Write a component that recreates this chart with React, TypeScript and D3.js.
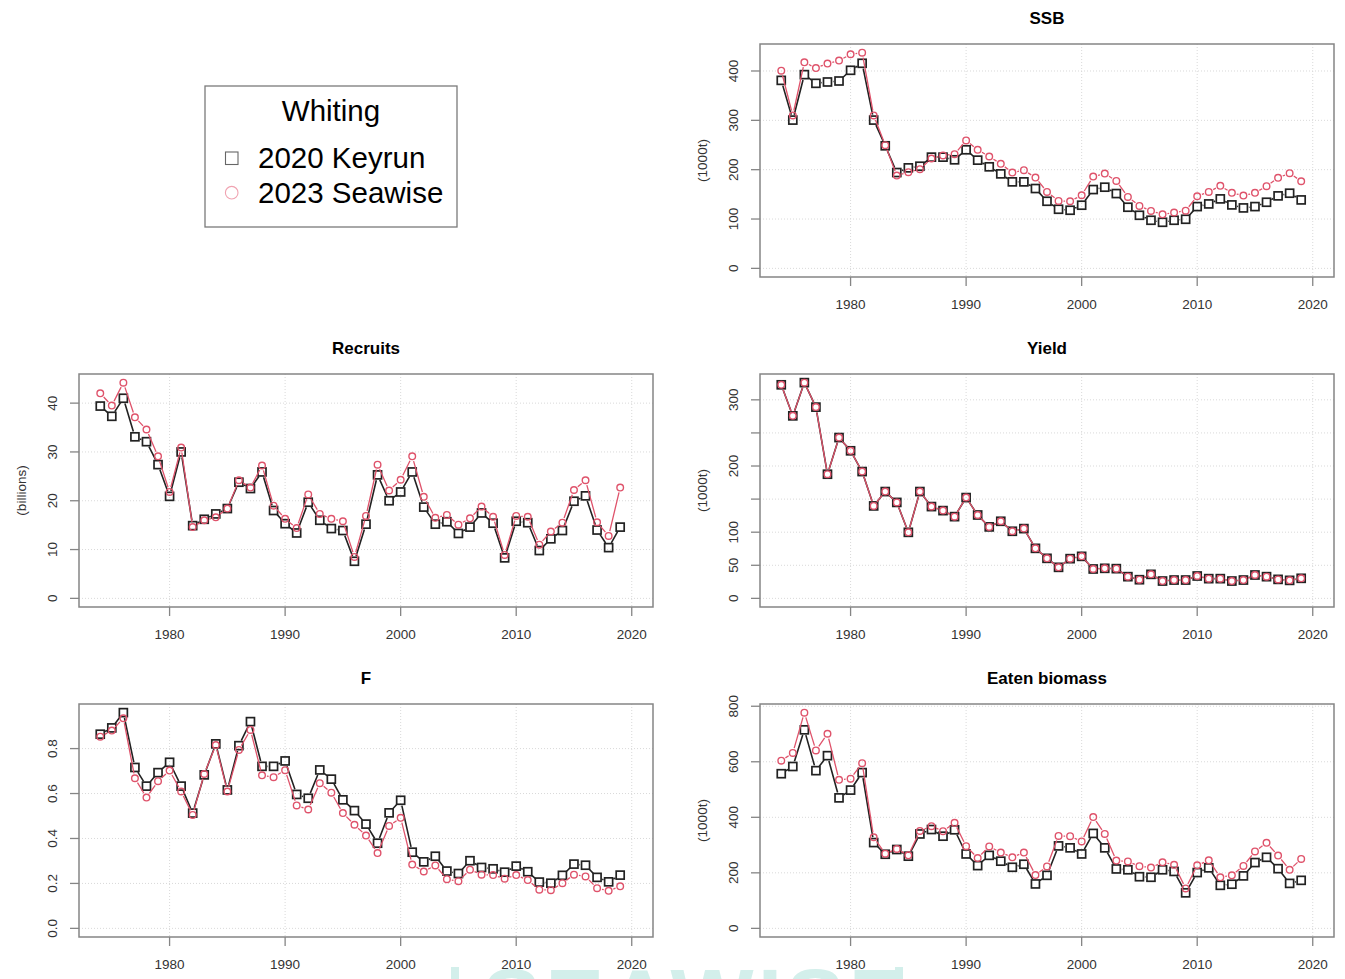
import React from "react";
import * as d3 from "d3";

const years = [1974,1975,1976,1977,1978,1979,1980,1981,1982,1983,1984,1985,1986,1987,1988,1989,1990,1991,1992,1993,1994,1995,1996,1997,1998,1999,2000,2001,2002,2003,2004,2005,2006,2007,2008,2009,2010,2011,2012,2013,2014,2015,2016,2017,2018,2019];

const ssbKeyrun = [381,300.5,392.6,375,377.7,379.7,401.4,415.6,300.5,248.4,194.2,203.7,207,225.4,225.4,220,240.3,219.3,205.8,191.5,175.3,175.3,161.8,136,119.8,117.8,128,159.7,164.5,151.6,123.9,107.6,97.5,93.4,97.5,99.5,125.2,130.6,140.8,128.6,122.5,125.2,134,146.9,152.3,138.7];
const ssbSeawise = [400.7,310,417.6,406,415,421,433.8,437.2,310,249.7,188,195,201,222.7,228.8,231.5,259.2,240.3,226.7,211.8,194.2,199,184,155,136.7,136,148.2,186,192.2,177.3,144.8,126.6,116.4,109.6,113,117,146.2,155,167.2,153,147.5,153,166.5,183.4,192.9,176.6];

const recKeyrun = [39.4,37.3,41,33.1,32.1,27.4,20.9,30,14.9,16.2,17.3,18.4,23.8,22.5,25.9,18,15.3,13.4,19.7,16,14.3,13.9,7.6,15.2,25.3,20,21.8,25.9,18.7,15.2,15.7,13.3,14.6,17.5,15.4,8.3,15.8,15.5,9.8,12.2,13.9,19.9,21,14,10.4,14.6];
const recSeawise = [42,39.5,44.2,37.1,34.6,29.1,21.8,30.9,14.6,16,16.6,18.4,24.2,22.7,27.2,19,16.3,14.4,21.3,17.3,16.3,15.8,8.5,16.9,27.4,22.1,24.3,29.1,20.8,16.5,17.1,15.1,16.4,18.8,16.7,8.9,16.9,16.7,11,13.7,15.5,22.2,24.2,15.6,12.8,22.7];

const yieldKeyrun = [322.7,275.8,326,289,187.6,243,223,191.6,139.7,161.4,145,99.8,161.4,138.7,132.6,123.5,152.3,126,108,116.5,101.4,105.4,75.6,60.5,46.9,60,63.5,44.4,45.4,44.9,32.8,28.2,36.3,26.2,27.7,27.7,33.8,29.8,29.8,26.2,27.7,35.3,32.8,28.7,27.2,30.3];
const yieldSeawise = [322.7,275.8,326,289,187.6,243,223,191.6,139.7,161.4,145,99.8,161.4,138.7,132.6,123.5,152.3,126,108,116.5,101.4,105.4,75.6,60.5,46.9,60,63.5,44.4,45.4,44.9,32.8,28.2,36.3,26.2,27.7,27.7,33.8,29.8,29.8,26.2,27.7,35.3,32.8,28.7,27.2,30.3];

const fKeyrun = [0.864,0.892,0.96,0.716,0.633,0.693,0.739,0.633,0.513,0.683,0.821,0.616,0.813,0.92,0.721,0.721,0.745,0.596,0.579,0.705,0.664,0.572,0.524,0.464,0.379,0.514,0.57,0.339,0.296,0.321,0.255,0.244,0.301,0.271,0.265,0.25,0.277,0.252,0.206,0.201,0.236,0.286,0.281,0.227,0.207,0.237];
const fSeawise = [0.853,0.88,0.935,0.668,0.582,0.655,0.702,0.609,0.505,0.687,0.816,0.609,0.794,0.883,0.681,0.673,0.704,0.547,0.529,0.646,0.604,0.513,0.461,0.413,0.335,0.456,0.492,0.284,0.253,0.28,0.219,0.21,0.261,0.239,0.237,0.221,0.237,0.215,0.172,0.17,0.201,0.239,0.231,0.179,0.167,0.187];

const eatenKeyrun = [557,583,715,568,622,470,498,561,309,267,284,260,340,356,332,355,268,226,263,242,220,231,160,191,297,290,268,342,290,214,211,186,184,211,205,128,201,218,155,159,189,237,256,215,162,173];
const eatenSeawise = [604,632,777,641,701,535,539,595,328,269,286,263,351,368,350,380,296,253,295,273,256,273,192,223,333,332,313,401,340,244,241,224,219,238,229,144,227,245,184,191,225,277,308,262,211,250];

const xTicks = [1980, 1990, 2000, 2010, 2020];
const ssbTicks = [0, 100, 200, 300, 400];
const recTicks = [0, 10, 20, 30, 40];
const yieldTicks = [0, 50, 100, 150, 200, 250, 300];
const yieldTickLabels = ["0", "50", "100", "", "200", "", "300"];
const fTicks = [0, 0.2, 0.4, 0.6, 0.8];
const fTickLabels = ["0.0", "0.2", "0.4", "0.6", "0.8"];
const eatenTicks = [0, 200, 400, 600, 800];

const seriesNames = ["2020 Keyrun", "2023 Seawise"];
const legendTitle = "Whiting";
const watermark = "SEAWISE";

const PINK = "#DF536B";
const DARK = "#222";
const FONT = "'Liberation Sans', Arial, Helvetica, sans-serif";

const BOX_W = 574;
const BOX_H = 233;

function gapSegments(pts: [number, number][], gap: number): string {
  let d = "";
  for (let i = 0; i < pts.length - 1; i++) {
    const [x1, y1] = pts[i];
    const [x2, y2] = pts[i + 1];
    const dx = x2 - x1, dy = y2 - y1;
    const len = Math.sqrt(dx * dx + dy * dy);
    if (len <= gap * 2 + 0.5) continue;
    const ux = dx / len, uy = dy / len;
    d += `M${x1 + ux * gap},${y1 + uy * gap}L${x2 - ux * gap},${y2 - uy * gap}`;
  }
  return d;
}

type PanelProps = {
  title: string;
  x0: number;
  y0: number;
  keyrun: number[];
  seawise: number[];
  yTicks: number[];
  yTickLabels?: string[];
  yLabel?: string;
};

function Panel({ title, x0, y0, keyrun, seawise, yTicks, yTickLabels, yLabel }: PanelProps) {
  const xMin = 1974, xMax = 2020;
  const xr = xMax - xMin;
  const x = d3.scaleLinear().domain([xMin - 0.04 * xr, xMax + 0.04 * xr]).range([x0, x0 + BOX_W]);
  const yMax = d3.max([...keyrun, ...seawise]) as number;
  const y = d3.scaleLinear().domain([-0.04 * yMax, 1.04 * yMax]).range([y0 + BOX_H, y0]);

  const kPts: [number, number][] = years.map((yr, i) => [x(yr), y(keyrun[i])]);
  const sPts: [number, number][] = years.map((yr, i) => [x(yr), y(seawise[i])]);

  const sq = 8;
  return (
    <g>
      <text x={x0 + BOX_W / 2} y={y0 - 20} textAnchor="middle" fontWeight="bold" fontSize={17} fontFamily={FONT} fill="#000">{title}</text>
      {xTicks.map((t) => (
        <line key={"gx" + t} x1={x(t)} x2={x(t)} y1={y0} y2={y0 + BOX_H} stroke="#d9d9d9" strokeWidth={1} strokeDasharray="1,2" />
      ))}
      {yTicks.map((t) => (
        <line key={"gy" + t} x1={x0} x2={x0 + BOX_W} y1={y(t)} y2={y(t)} stroke="#d9d9d9" strokeWidth={1} strokeDasharray="1,2" />
      ))}
      <path d={gapSegments(kPts, 5.5)} stroke={DARK} strokeWidth={1.6} fill="none" />
      {kPts.map(([px, py], i) => (
        <rect key={"k" + i} x={px - sq / 2} y={py - sq / 2} width={sq} height={sq} fill="none" stroke={DARK} strokeWidth={1.7} />
      ))}
      <path d={gapSegments(sPts, 5)} stroke={PINK} strokeWidth={1.3} fill="none" />
      {sPts.map(([px, py], i) => (
        <circle key={"s" + i} cx={px} cy={py} r={3.3} fill="none" stroke={PINK} strokeWidth={1.4} />
      ))}
      <rect x={x0} y={y0} width={BOX_W} height={BOX_H} fill="none" stroke="#858585" strokeWidth={1.5} />
      {xTicks.map((t) => (
        <g key={"xt" + t}>
          <line x1={x(t)} x2={x(t)} y1={y0 + BOX_H} y2={y0 + BOX_H + 9} stroke="#858585" strokeWidth={1.3} />
          <text x={x(t)} y={y0 + BOX_H + 32} textAnchor="middle" fontSize={13.5} fontFamily={FONT} fill="#333">{t}</text>
        </g>
      ))}
      {yTicks.map((t, i) => (
        <g key={"yt" + t}>
          <line x1={x0 - 9} x2={x0} y1={y(t)} y2={y(t)} stroke="#858585" strokeWidth={1.3} />
          <text transform={`translate(${x0 - 22},${y(t)}) rotate(-90)`} textAnchor="middle" fontSize={13.5} fontFamily={FONT} fill="#333">
            {yTickLabels ? yTickLabels[i] : String(t)}
          </text>
        </g>
      ))}
      {yLabel && (
        <text transform={`translate(${x0 - 53},${y0 + BOX_H / 2}) rotate(-90)`} textAnchor="middle" fontSize={13.5} fontFamily={FONT} fill="#333">{yLabel}</text>
      )}
    </g>
  );
}

export default function App() {
  const leftX = 79;
  const rightX = 760;
  const rows = [44, 374, 704];
  return (
    <svg width={1345} height={979} style={{ position: "absolute", left: 0, top: 0, background: "#fff" }} xmlns="http://www.w3.org/2000/svg">
      <rect x={0} y={0} width={1345} height={979} fill="#fff" />
      <g fill="#d3efeb">
        <rect x={451} y={967} width={8} height={20} />
        <rect x={895} y={967} width={8} height={20} />
        <text x={697} y={1030} textAnchor="middle" fontSize={88} fontWeight="bold" fontFamily={FONT} letterSpacing={4}>{watermark}</text>
      </g>
      <g>
        <rect x={205} y={86} width={252} height={141} fill="#fff" stroke="#7a7a7a" strokeWidth={1.3} />
        <text x={331} y={121} textAnchor="middle" fontSize={29.5} fontFamily={FONT} fill="#000">{legendTitle}</text>
        <rect x={225.5} y={152} width={12.5} height={12.5} fill="none" stroke="#666" strokeWidth={1.1} />
        <text x={258} y={168} fontSize={29.5} fontFamily={FONT} fill="#000">{seriesNames[0]}</text>
        <circle cx={231.7} cy={192.7} r={6.3} fill="none" stroke="#f0a3b1" strokeWidth={1.1} />
        <text x={258} y={203} fontSize={29.5} fontFamily={FONT} fill="#000">{seriesNames[1]}</text>
      </g>
      <Panel title="SSB" x0={rightX} y0={rows[0]} keyrun={ssbKeyrun} seawise={ssbSeawise} yTicks={ssbTicks} yLabel="(1000t)" />
      <Panel title="Recruits" x0={leftX} y0={rows[1]} keyrun={recKeyrun} seawise={recSeawise} yTicks={recTicks} yLabel="(billions)" />
      <Panel title="Yield" x0={rightX} y0={rows[1]} keyrun={yieldKeyrun} seawise={yieldSeawise} yTicks={yieldTicks} yTickLabels={yieldTickLabels} yLabel="(1000t)" />
      <Panel title="F" x0={leftX} y0={rows[2]} keyrun={fKeyrun} seawise={fSeawise} yTicks={fTicks} yTickLabels={fTickLabels} />
      <Panel title="Eaten biomass" x0={rightX} y0={rows[2]} keyrun={eatenKeyrun} seawise={eatenSeawise} yTicks={eatenTicks} yLabel="(1000t)" />
    </svg>
  );
}
